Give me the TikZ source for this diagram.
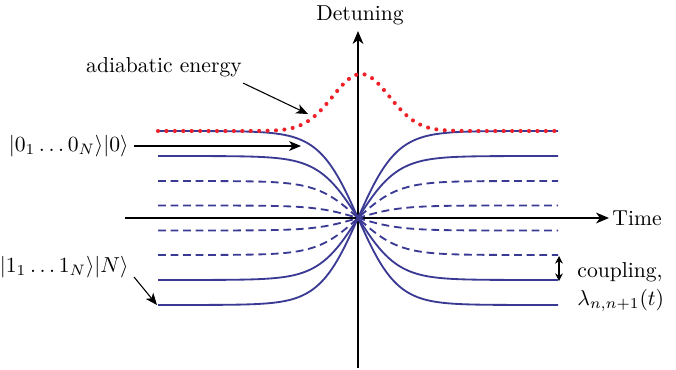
\documentclass[tikz,border=0pt]{standalone}
\usetikzlibrary{arrows.meta}
\definecolor{lvl}{RGB}{58,58,148}
\definecolor{adia}{RGB}{238,32,40}
\begin{document}
\begin{tikzpicture}[x=0.4627pt,y=-0.4627pt,
  axis/.style={line width=0.7pt,-{Stealth[length=6pt,width=5pt,inset=1.8pt]}},
  level/.style={lvl,line width=0.85pt},
  dlevel/.style={level,dash pattern=on 3.6pt off 2.2pt},
  adiab/.style={adia,line width=1.9pt,line cap=round,dash pattern=on 0pt off 3.9pt},
  note/.style={line width=0.5pt,-{Stealth[length=5.5pt,width=4.5pt,inset=1.5pt]}},
  lab/.style={inner sep=0pt,font=\normalsize}]
\useasboundingbox (0,0) rectangle (676,370);
% axes
\coordinate (xs) at (125,218);
\coordinate (xe) at (609,218);
\coordinate (ys) at (358,368);
\coordinate (ye) at (358,31);
\draw[axis] (xs) -- (xe);
\draw[axis] (ys) -- (ye);
\node[lab,anchor=base west] (time) at (612,225) {Time};
\node[lab,anchor=base] (det) at (360,21) {Detuning};
% levels
\draw[level] plot[domain=158:558,samples=240] (\x,{218-87*tanh((358-\x)/39)});
\draw[level] plot[domain=158:558,samples=240] (\x,{218+87*tanh((358-\x)/39)});
\draw[level] plot[domain=158:558,samples=240] (\x,{218-62*tanh((358-\x)/40)});
\draw[level] plot[domain=158:558,samples=240] (\x,{218+62*tanh((358-\x)/40)});
\draw[dlevel] plot[domain=158:558,samples=240] (\x,{218-37*tanh((358-\x)/41)});
\draw[dlevel] plot[domain=158:558,samples=240] (\x,{218+37*tanh((358-\x)/41)});
\draw[dlevel] plot[domain=158:558,samples=240] (\x,{218-12.5*tanh((358-\x)/42)});
\draw[dlevel] plot[domain=158:558,samples=240] (\x,{218+12.5*tanh((358-\x)/42)});
% adiabatic energy
\draw[adiab] plot[domain=158:558,samples=240] (\x,{131-57*exp(-((\x-361)/40)*((\x-361)/40))});
% labels
\node[lab] (ad) at (164,67) {adiabatic energy};
\coordinate (adt) at (308,114);
\draw[note] (ad.south east) ++(1,6) coordinate (ads) (ads) -- (adt);
\node[lab,anchor=east] (s0) at (129,146) {$|0_1\ldots0_N\rangle|0\rangle$};
\coordinate (s0t) at (301,146);
\draw[note] (s0.east) ++(5,0) coordinate (s0s) (s0s) -- (s0t);
\node[lab,anchor=east] (sN) at (129,267) {$|1_1\ldots1_N\rangle|N\rangle$};
\coordinate (sNs) at (134,277);
\coordinate (sNt) at (157,305);
\draw[note] (sNs) -- (sNt);
% coupling
\coordinate (ca) at (559,256);
\coordinate (cb) at (559,281);
\draw[line width=0.5pt,{Stealth[length=3.5pt,width=3.5pt]}-{Stealth[length=3.5pt,width=3.5pt]}] (ca) -- (cb);
\node[lab,anchor=base west] (cp) at (577,277) {coupling,};
\node[lab,anchor=base west] (lam) at (577,305) {$\lambda_{n,n+1}(t)$};
\end{tikzpicture}
\end{document}
